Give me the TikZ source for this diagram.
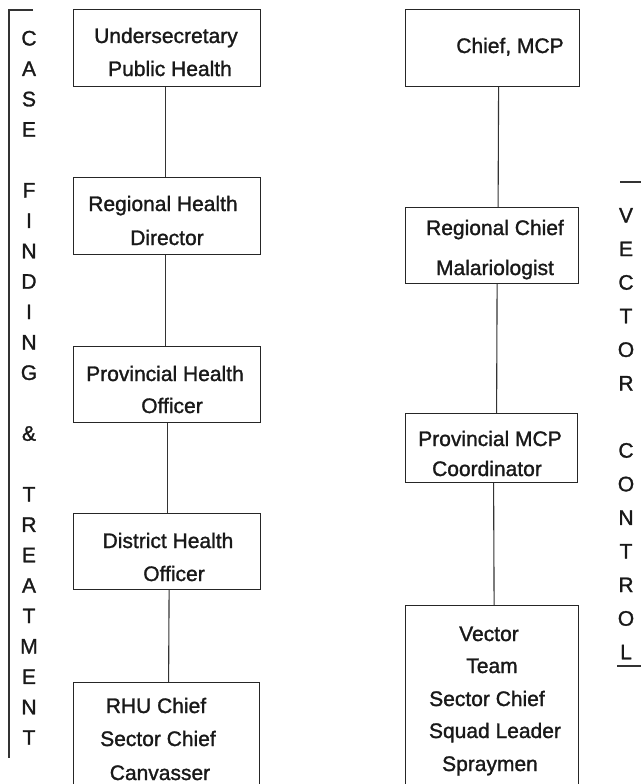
\documentclass[tikz,border=0pt]{standalone}
\usepackage{fontspec}
\setmainfont{Liberation Sans}
\newfontfamily\scanfont{Liberation Sans}[FakeBold=1.3]
\begin{document}
\begin{tikzpicture}[x=1pt,y=-1pt,
  orgbox/.style={draw=black!85, line width=1.2pt, rectangle, inner sep=0pt, anchor=north west},
  lbl/.style={font=\scanfont\fontsize{21}{25}\selectfont, inner sep=0pt, anchor=base, text=black!90},
  link/.style={draw=black!80, line width=1.1pt},
  brk/.style={draw=black!80, line width=1.2pt},
  vlet/.style={font=\scanfont\fontsize{21}{25}\selectfont, inner sep=0pt, anchor=base, text=black!90}]
\useasboundingbox (0,0) rectangle (641,784);
\clip (0,0) rectangle (641,784);
\fill[white] (0,0) rectangle (641,784);

% left boxes
\node[orgbox, minimum width=187pt, minimum height=77pt] (L1) at (73,9) {};
\node[orgbox, minimum width=187pt, minimum height=77pt] (L2) at (73,177) {};
\node[orgbox, minimum width=187pt, minimum height=76pt] (L3) at (73,346) {};
\node[orgbox, minimum width=187pt, minimum height=76pt] (L4) at (73,513) {};
\node[orgbox, minimum width=186pt, minimum height=130pt] (L5) at (73,682) {};

% right boxes
\node[orgbox, minimum width=174pt, minimum height=77pt] (R1) at (405,9) {};
\node[orgbox, minimum width=173pt, minimum height=76pt] (R2) at (405,207) {};
\node[orgbox, minimum width=172pt, minimum height=69pt] (R3) at (405,413) {};
\node[orgbox, minimum width=173pt, minimum height=200pt] (R4) at (405,605) {};

% connectors
\draw[link] ([xshift=-2pt]L1.south) -- ([xshift=-2pt]L2.north);
\draw[link] ([xshift=-2pt]L2.south) -- ([xshift=-2pt]L3.north);
\draw[link] (L3.south) -- (L4.north);
\draw[link] ([xshift=2pt]L4.south) -- ([xshift=2pt]L5.north);
\draw[link] ([xshift=6pt]R1.south) -- ([xshift=6pt]R2.north);
\draw[link] ([xshift=5pt]R2.south) -- ([xshift=5pt]R3.north);
\draw[link] ([xshift=2pt]R3.south) -- ([xshift=2pt]R4.north);

% left box texts
\node[lbl] (t1a) at (166,43) {Undersecretary};
\node[lbl] (t1b) at (170,76) {Public Health};
\node[lbl] (t2a) at (163,211) {Regional Health};
\node[lbl] (t2b) at (167,245) {Director};
\node[lbl] (t3a) at (165,381) {Provincial Health};
\node[lbl] (t3b) at (172,413) {Officer};
\node[lbl] (t4a) at (168,548) {District Health};
\node[lbl] (t4b) at (174,581) {Officer};
\node[lbl] (t5a) at (156,713) {RHU Chief};
\node[lbl] (t5b) at (158,746) {Sector Chief};
\node[lbl] (t5c) at (160,780) {Canvasser};

% right box texts
\node[lbl] (s1a) at (510,53) {Chief, MCP};
\node[lbl] (s2a) at (495,235) {Regional Chief};
\node[lbl] (s2b) at (495,275) {Malariologist};
\node[lbl] (s3a) at (490,446) {Provincial MCP};
\node[lbl] (s3b) at (487,476) {Coordinator};
\node[lbl] (s4a) at (489,641) {Vector};
\node[lbl] (s4b) at (492,673) {Team};
\node[lbl] (s4c) at (487,706) {Sector Chief};
\node[lbl] (s4d) at (495,738) {Squad Leader};
\node[lbl] (s4e) at (490,771) {Spraymen};

% left bracket and vertical text
\coordinate (lbA) at (33,10);
\coordinate (lbB) at (9,10);
\coordinate (lbC) at (9,758);
\draw[brk] (lbA) -- (lbB) -- (lbC);
\foreach \ch/\k in {C/0,A/1,S/2,E/3,F/5,I/6,N/7,D/8,I/9,N/10,G/11,\&/13,T/15,R/16,E/17,A/18,T/19,M/20,E/21,N/22,T/23}
  \node[vlet] (cf\k) at (29,{45.5+\k*30.4}) {\ch};

% right markers and vertical text
\coordinate (rbA) at (620,182);
\coordinate (rbB) at (641,182);
\coordinate (rbC) at (617,666);
\coordinate (rbD) at (641,666);
\draw[brk] (rbA) -- (rbB);
\draw[brk] (rbC) -- (rbD);
\foreach \ch/\k in {V/0,E/1,C/2,T/3,O/4,R/5,C/7,O/8,N/9,T/10,R/11,O/12,L/13}
  \node[vlet] (vc\k) at (626,{222.5+\k*33.6}) {\ch};
\end{tikzpicture}
\end{document}
